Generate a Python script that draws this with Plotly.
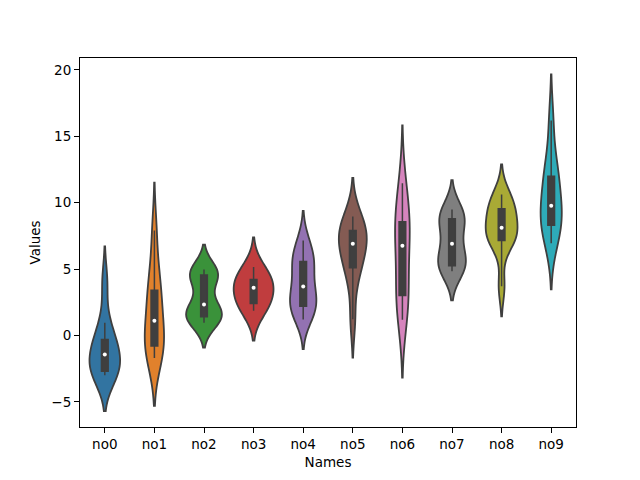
import numpy as np
import plotly.graph_objects as go

names = ['no0', 'no1', 'no2', 'no3', 'no4', 'no5', 'no6', 'no7', 'no8', 'no9']

no0 = [-3.0, -2.8, -2.7, -2.45, -1.7, -1.16, -0.6, -0.31, 0.95, 4.0]
no1 = [-1.7, -1.2, -0.8, -0.5, 0.6, 1.6, 3.0, 3.4, 5.0, 7.9]
no2 = [0.95, 1.3, 1.4, 1.65, 1.9, 2.76, 4.35, 4.55, 4.7, 4.97]
no3 = [1.85, 2.2, 2.4, 2.65, 3.4, 3.78, 4.1, 4.22, 4.5, 5.15]
no4 = [1.2, 1.9, 2.2, 2.72, 3.4, 3.98, 5.2, 5.56, 6.1, 7.15]
no5 = [1.22, 4.39, 5.1, 6.1, 6.7, 7.1, 7.7, 7.91, 8.3, 8.96]
no6 = [1.18, 2.3, 3.0, 4.05, 6.2, 7.3, 8.2, 8.57, 9.8, 11.47]
no7 = [4.84, 5.1, 5.25, 5.75, 6.5, 7.3, 8.5, 8.78, 9.1, 9.49]
no8 = [3.7, 7.1, 7.15, 7.5, 7.9, 8.32, 9.3, 9.55, 10.0, 10.62]
no9 = [6.95, 8.0, 8.3, 8.95, 9.5, 10.02, 11.7, 12.0, 13.0, 16.19]

samples = [no0, no1, no2, no3, no4, no5, no6, no7, no8, no9]

# kde bandwidth per violin
bandwidths = [1.35, 1.8, 0.93, 1.12, 1.12, 1.45, 2.18, 1.1, 1.13, 1.74]

colors = ['#3274a1', '#e1812c', '#3a923a', '#c03d3e', '#9372b2',
          '#845b53', '#d684bd', '#7f7f7f', '#a9aa35', '#2eabb8']
gray = '#3f3f3f'


def kde_peak(vals, bw):
    v = np.asarray(vals)
    grid = np.linspace(v.min() - 2 * bw, v.max() + 2 * bw, 400)
    dens = np.exp(-0.5 * ((grid[:, None] - v[None, :]) / bw) ** 2).sum(axis=1)
    return dens.max() / (len(v) * bw * np.sqrt(2 * np.pi))


# seaborn's scale='area': every violin shares one density->width factor,
# so the widest one gets 0.8 and the rest are narrower
peaks = [kde_peak(v, bw) for v, bw in zip(samples, bandwidths)]
top_peak = max(peaks)

fig = go.Figure()
for name, vals, bw, c, pk in zip(names, samples, bandwidths, colors, peaks):
    w = 0.8 * pk / top_peak
    fig.add_trace(go.Violin(
        x=[name] * len(vals), y=vals, name=name,
        bandwidth=bw, spanmode='soft',
        width=w, scalemode='width',
        fillcolor=c, opacity=1,
        line=dict(color=gray, width=1.8),
        points=False,
        box=dict(visible=True, width=min(1, 0.135 / w), fillcolor=gray,
                 line=dict(color=gray, width=1.5)),
        quartilemethod='linear',
        hoverinfo='skip', showlegend=False,
    ))

# white median dots like seaborn's inner box
fig.add_trace(go.Scatter(
    x=names, y=[float(np.median(v)) for v in samples], mode='markers',
    marker=dict(color='white', size=4), hoverinfo='skip', showlegend=False,
))

axis_style = dict(
    showline=True, linecolor='black', linewidth=1.1, mirror=True,
    ticks='outside', ticklen=5, tickwidth=1.1, tickcolor='black',
    showgrid=False, zeroline=False,
    tickfont=dict(size=13.5, color='black'),
    title_font=dict(size=13.5, color='black'),
)

# page body has an 8px margin, so the figure is a bit smaller and shifted
fig.update_layout(
    width=632, height=472,
    margin=dict(l=72, r=64, t=50, b=53),
    paper_bgcolor='white', plot_bgcolor='white',
    font=dict(family='DejaVu Sans', color='black'),
    violinmode='overlay',
    xaxis=dict(title=dict(text='Names', standoff=6), categoryorder='array',
               categoryarray=names, range=[-0.5, 9.5], **axis_style),
    yaxis=dict(title=dict(text='Values', standoff=7), range=[-6.9, 20.9],
               tickvals=[-5, 0, 5, 10, 15, 20], **axis_style),
)

fig.write_html('out.html')
